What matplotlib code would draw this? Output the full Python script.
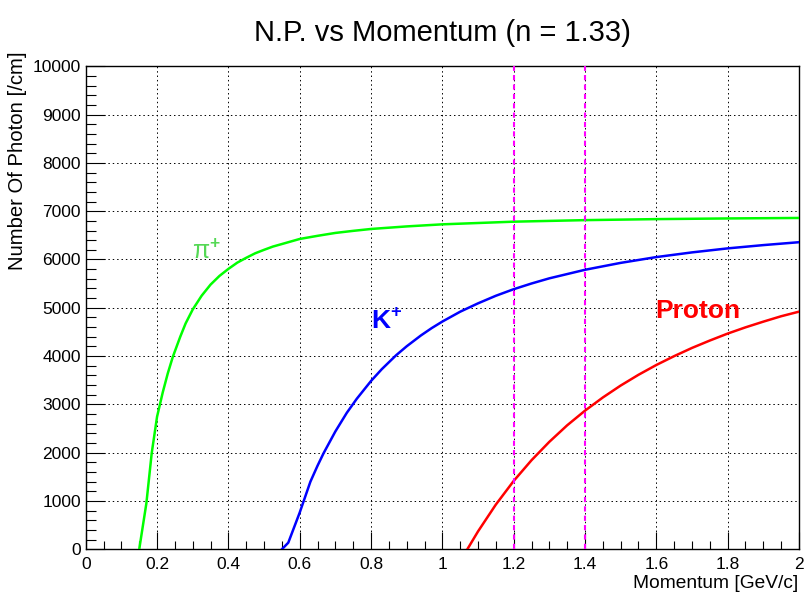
import matplotlib
matplotlib.use("Agg")
import matplotlib.pyplot as plt
from matplotlib.ticker import MultipleLocator, FormatStrFormatter

plt.rcParams['font.family'] = ['Liberation Sans', 'DejaVu Sans']
plt.rcParams['mathtext.fontset'] = 'custom'
plt.rcParams['mathtext.rm'] = 'Liberation Sans'
plt.rcParams['mathtext.bf'] = 'Liberation Sans:bold'

# photon yield per cm vs momentum (n = 1.33)
pion_p = [0.150, 0.170, 0.185, 0.200, 0.216, 0.230, 0.244, 0.265, 0.280, 0.300,
          0.325, 0.350, 0.375, 0.400, 0.425, 0.450, 0.475, 0.500, 0.525, 0.550,
          0.600, 0.650, 0.700, 0.750, 0.800, 0.900, 1.000, 1.200, 1.400, 1.600,
          1.800, 2.000]
pion_n = [0, 950, 1990, 2745, 3250, 3640, 3980, 4400, 4675, 4965,
          5250, 5480, 5660, 5805, 5935, 6035, 6128, 6200, 6268, 6320,
          6425, 6490, 6550, 6593, 6632, 6685, 6728, 6783, 6815, 6836,
          6850, 6860]

kaon_p = [0.550, 0.568, 0.600, 0.630, 0.650, 0.667, 0.700, 0.732, 0.760, 0.800,
          0.830, 0.870, 0.900, 0.940, 0.970, 1.000, 1.050, 1.100, 1.150, 1.200,
          1.250, 1.300, 1.400, 1.500, 1.600, 1.700, 1.800, 1.900, 2.000]
kaon_n = [0, 137, 760, 1400, 1730, 1990, 2440, 2825, 3116, 3485,
          3728, 4015, 4203, 4428, 4579, 4715, 4919, 5092, 5249, 5385,
          5503, 5610, 5787, 5930, 6050, 6147, 6230, 6298, 6358]

proton_p = [1.070, 1.100, 1.150, 1.200, 1.250, 1.300, 1.350, 1.400, 1.450, 1.500,
            1.550, 1.600, 1.650, 1.700, 1.750, 1.800, 1.850, 1.900, 1.950, 2.000]
proton_n = [0, 370, 926, 1415, 1844, 2225, 2567, 2870, 3143, 3390,
            3613, 3816, 3999, 4169, 4322, 4466, 4595, 4713, 4825, 4920]

cut_p = [1.2, 1.4]

x_ticks = [0, 0.2, 0.4, 0.6, 0.8, 1.0, 1.2, 1.4, 1.6, 1.8, 2.0]
x_ticklabels = ['0', '0.2', '0.4', '0.6', '0.8', '1', '1.2', '1.4', '1.6', '1.8', '2']

fig = plt.figure(figsize=(8.05, 5.93), dpi=100)
ax = fig.add_axes([0.1065, 0.0737, 0.886, 0.8145])

ax.plot(pion_p, pion_n, color='#00ff00', lw=1.8, zorder=3)
ax.plot(kaon_p, kaon_n, color='#0000ff', lw=1.8, zorder=3)
ax.plot(proton_p, proton_n, color='#ff0000', lw=1.8, zorder=3)

for p in cut_p:
    ax.axvline(p, color='#ff00ff', lw=1.5, linestyle=(0, (2.5, 2.0)), zorder=4)

ax.set_xlim(0, 2)
ax.set_ylim(0, 10000)

## ticks and grid, ROOT style
ax.set_xticks(x_ticks)
ax.set_xticklabels(x_ticklabels)
ax.xaxis.set_minor_locator(MultipleLocator(0.05))
ax.yaxis.set_major_locator(MultipleLocator(1000))
ax.yaxis.set_minor_locator(MultipleLocator(200))
ax.yaxis.set_major_formatter(FormatStrFormatter('%d'))
ax.tick_params(axis='both', which='both', direction='in', top=False, right=False,
               labelsize=12.5, colors='black', width=0.8)
ax.tick_params(axis='x', which='major', length=12, pad=5.5)
ax.tick_params(axis='x', which='minor', length=5.5)
ax.tick_params(axis='y', which='major', length=14, pad=3.5)
ax.tick_params(axis='y', which='minor', length=7)
ax.grid(True, which='major', color='black', lw=0.7, linestyle=(0, (1.5, 3.0)), zorder=1)
for spine in ax.spines.values():
    spine.set_linewidth(1.0)

ax.set_title('N.P. vs Momentum (n = 1.33)', fontsize=21, pad=18)

## axis titles sit at the ends of the axes
fig.text(798 / 805, 1 - 583 / 593, 'Momentum [GeV/c]', fontsize=13.8,
         ha='right', va='center')
fig.text(18 / 805, 1 - 51 / 593, 'Number Of Photon [/cm]', fontsize=14.6,
         rotation=90, ha='center', va='top')

## particle labels
ax.text(0.297, 6150, 'π$^{\\mathbf{+}}$', color='#55d855', fontsize=18,
        va='center', ha='left')
ax.text(0.799, 4740, 'K$^{\\mathbf{+}}$', color='#0000ff', fontsize=19,
        fontweight='bold', va='center', ha='left')
ax.text(1.596, 4935, 'Proton', color='#ff0000', fontsize=19, fontweight='bold',
        va='center', ha='left')

fig.savefig('out.png', dpi=100)
